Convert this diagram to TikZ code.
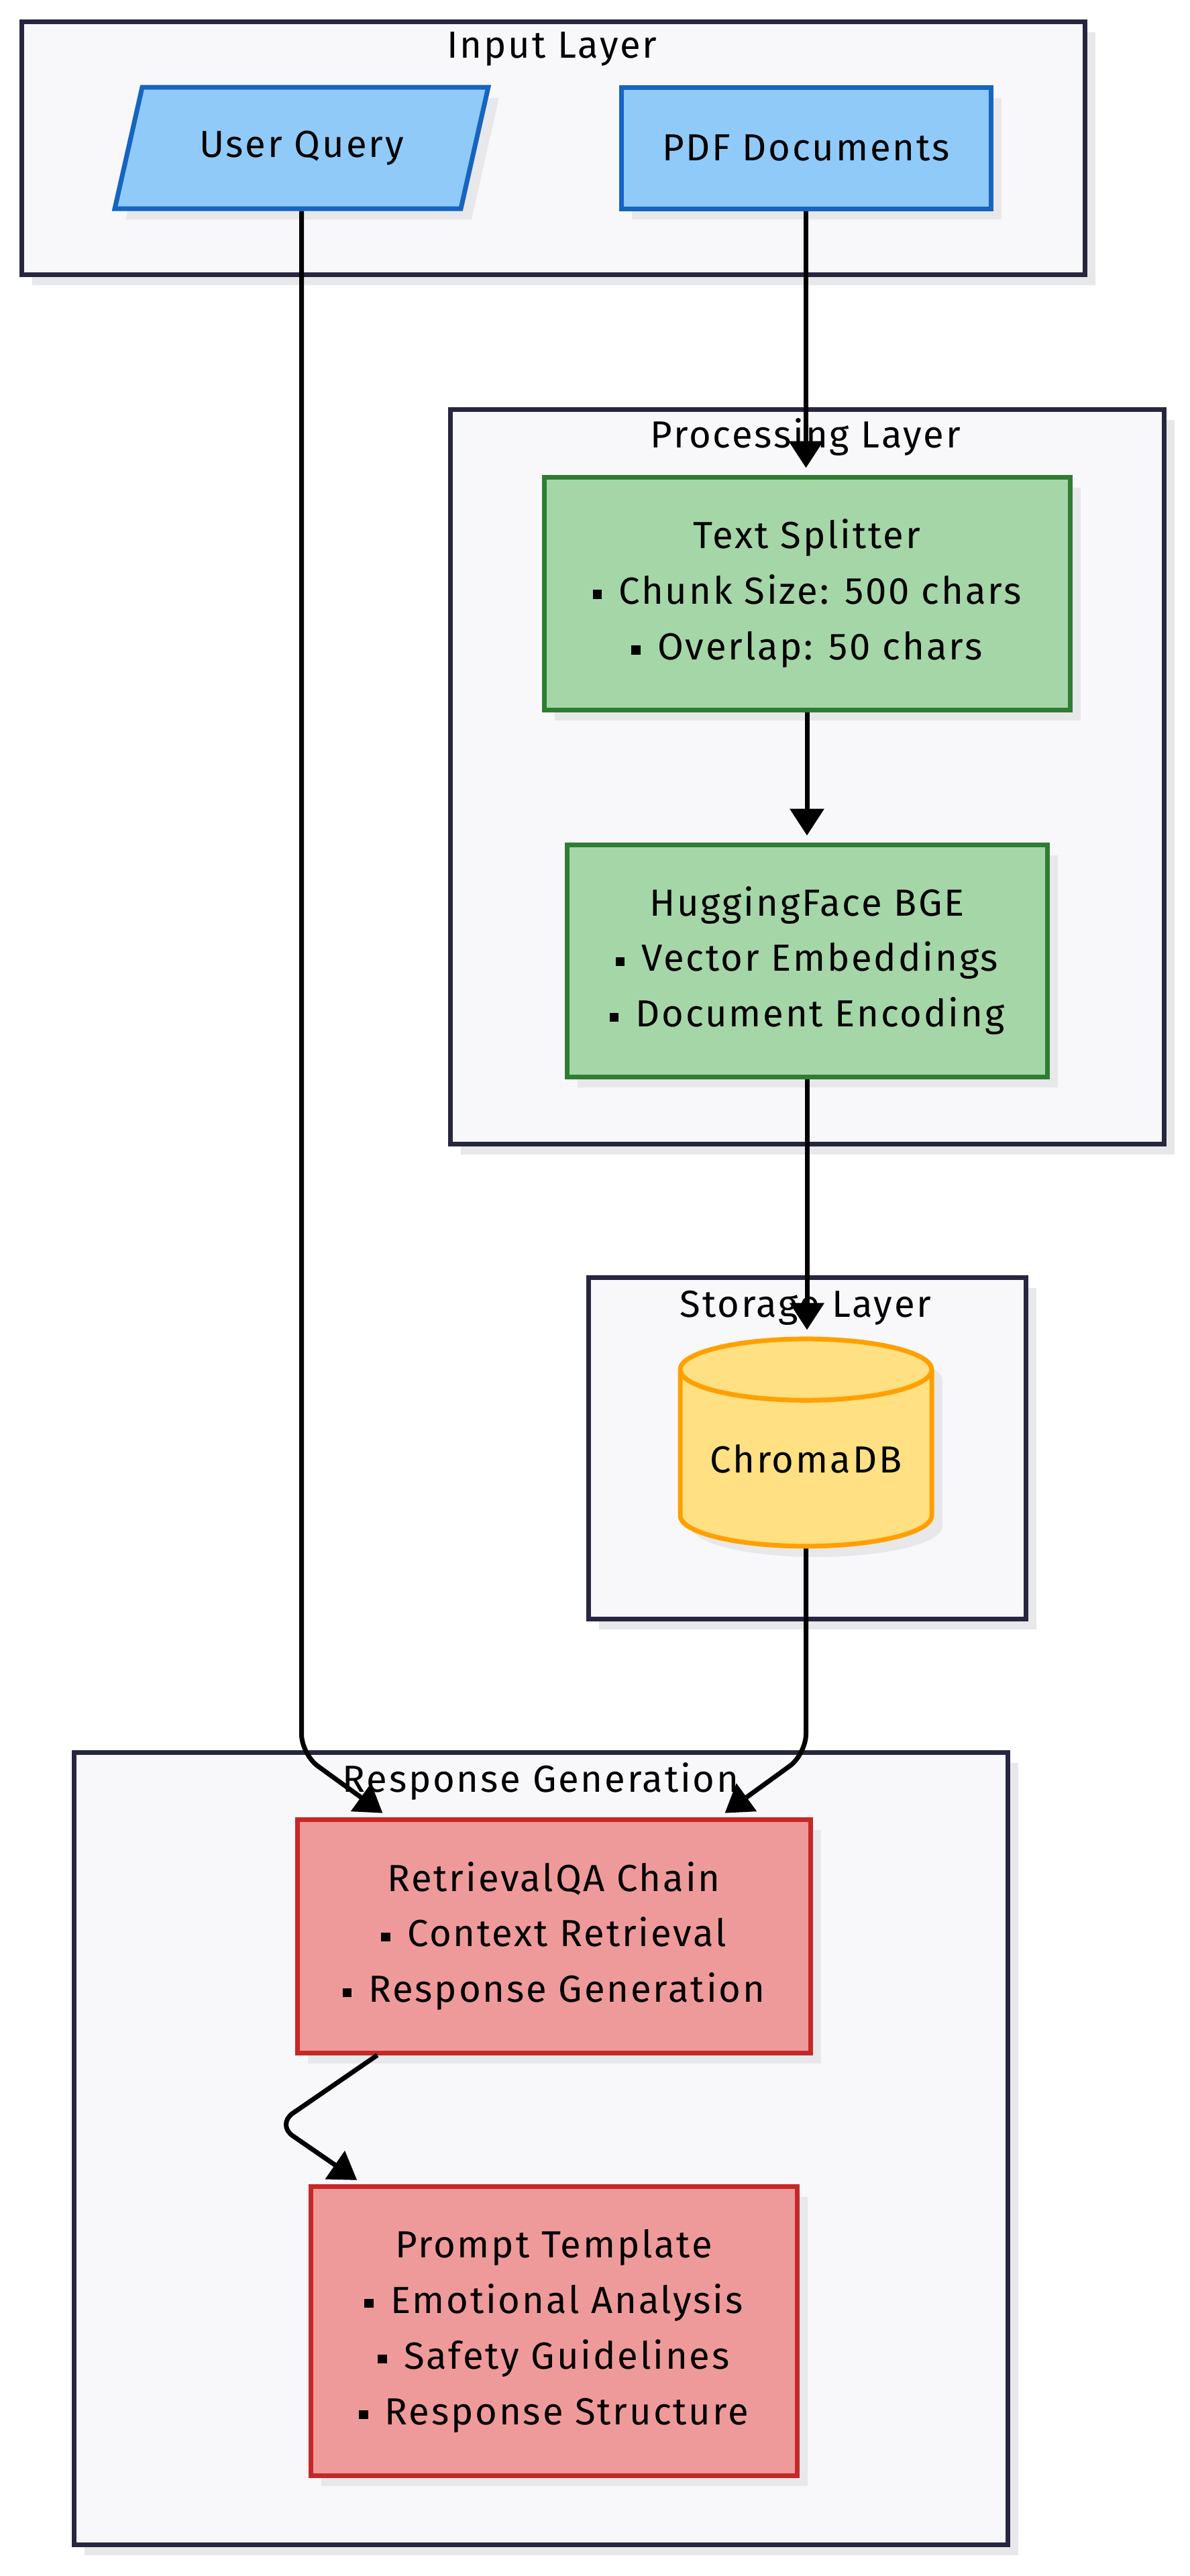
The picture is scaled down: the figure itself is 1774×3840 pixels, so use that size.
\documentclass[tikz,border=0pt]{standalone}
\usepackage{fontspec}
\setmainfont[LetterSpace=5]{Fira Sans}
\usetikzlibrary{arrows.meta,shapes.geometric}
\definecolor{clusterfill}{HTML}{F8F8FA}
\definecolor{clusterline}{HTML}{262640}
\definecolor{shadowgray}{HTML}{E8E8EA}
\definecolor{inputfill}{HTML}{90CAF9}
\definecolor{inputline}{HTML}{1565C0}
\definecolor{procfill}{HTML}{A5D6A7}
\definecolor{procline}{HTML}{2E7D32}
\definecolor{storefill}{HTML}{FFE082}
\definecolor{storeline}{HTML}{FFA000}
\definecolor{respfill}{HTML}{EF9A9A}
\definecolor{respline}{HTML}{C62828}
\newcommand{\bul}{\raisebox{0.14em}{\rule{0.24em}{0.24em}}\hspace{0.45em}}
\begin{document}
\begin{tikzpicture}[x=0.1mm, y=-0.1mm,
  every node/.style={font=\fontsize{16}{23.6}\selectfont, inner sep=0pt, align=center},
  dropshade/.style={preaction={fill=shadowgray, transform canvas={xshift=1.6mm, yshift=-1.6mm}}},
  layer/.style={rectangle, dropshade, draw=clusterline, fill=clusterfill, line width=0.7mm},
  inbox/.style={dropshade, draw=inputline, fill=inputfill, line width=0.7mm},
  procbox/.style={rectangle, dropshade, draw=procline, fill=procfill, line width=0.7mm},
  respbox/.style={rectangle, dropshade, draw=respline, fill=respfill, line width=0.7mm},
  flow/.style={-{Triangle[width=5mm,length=4mm]}, line width=0.7mm, rounded corners=3mm, shorten >=1mm}]
\useasboundingbox (0,0) rectangle (1774,3840);

\node[layer, minimum width=158.5mm, minimum height=37.7mm] (inputlayer) at (824.5,220.5){};
\node (inputtitle) at (823,73){Input Layer};
\node[layer, minimum width=106.4mm, minimum height=109.5mm] (proclayer) at (1203,1157.5){};
\node (proctitle) at (1201,652){Processing Layer};
\node[layer, minimum width=65.2mm, minimum height=50.9mm] (storelayer) at (1203,2158.5){};
\node (storetitle) at (1201,1950){Storage Layer};
\node[layer, minimum width=139.2mm, minimum height=118.1mm] (resplayer) at (806,3202.5){};
\node (resptitle) at (806,2656){Response Generation};

\node[inbox, trapezium, trapezium left angle=63, trapezium right angle=117, trapezium stretches=true, minimum width=55.7mm, minimum height=18.1mm] (uq) at (449.5,220.5){User Query};
\node[inbox, rectangle, minimum width=55.1mm, minimum height=18.1mm] (pdf) at (1201.5,220.5){PDF Documents};
\node[procbox, minimum width=78.4mm, minimum height=34.7mm] (ts) at (1203,884.5){Text Splitter\\\bul Chunk Size: 500 chars\\\bul Overlap: 50 chars};
\node[procbox, minimum width=71.6mm, minimum height=34.6mm] (hf) at (1203,1432){HuggingFace BGE\\\bul Vector Embeddings\\\bul Document Encoding};
\node[cylinder, shape border rotate=90, aspect=0.32, dropshade, draw=storeline, fill=storefill, line width=0.7mm, minimum width=37.5mm, minimum height=30.9mm] (db) at (1201.5,2175){ChromaDB};
\node[respbox, minimum width=76.5mm, minimum height=34.8mm] (rqa) at (825.5,2886){RetrievalQA Chain\\\bul Context Retrieval\\\bul Response Generation};
\node[respbox, minimum width=72.5mm, minimum height=43.1mm] (pt) at (825.5,3474.5){Prompt Template\\\bul Emotional Analysis\\\bul Safety Guidelines\\\bul Response Structure};

\draw[flow] (pdf.south) -- (pdf.south |- ts.north);
\draw[flow] (ts.south) -- (ts.south |- hf.north);
\draw[flow] (hf.south) -- (hf.south |- db.north);
\draw[flow] (uq.south) -- (449.5,2615) -- ([xshift=-24.7mm]rqa.north);
\draw[flow] (db.south) -- (1201.5,2615) -- ([xshift=24.7mm]rqa.north);
\draw[flow] ([xshift=-26.3mm]rqa.south) -- (412,3167) -- ([xshift=-28.5mm]pt.north);

\end{tikzpicture}
\end{document}
